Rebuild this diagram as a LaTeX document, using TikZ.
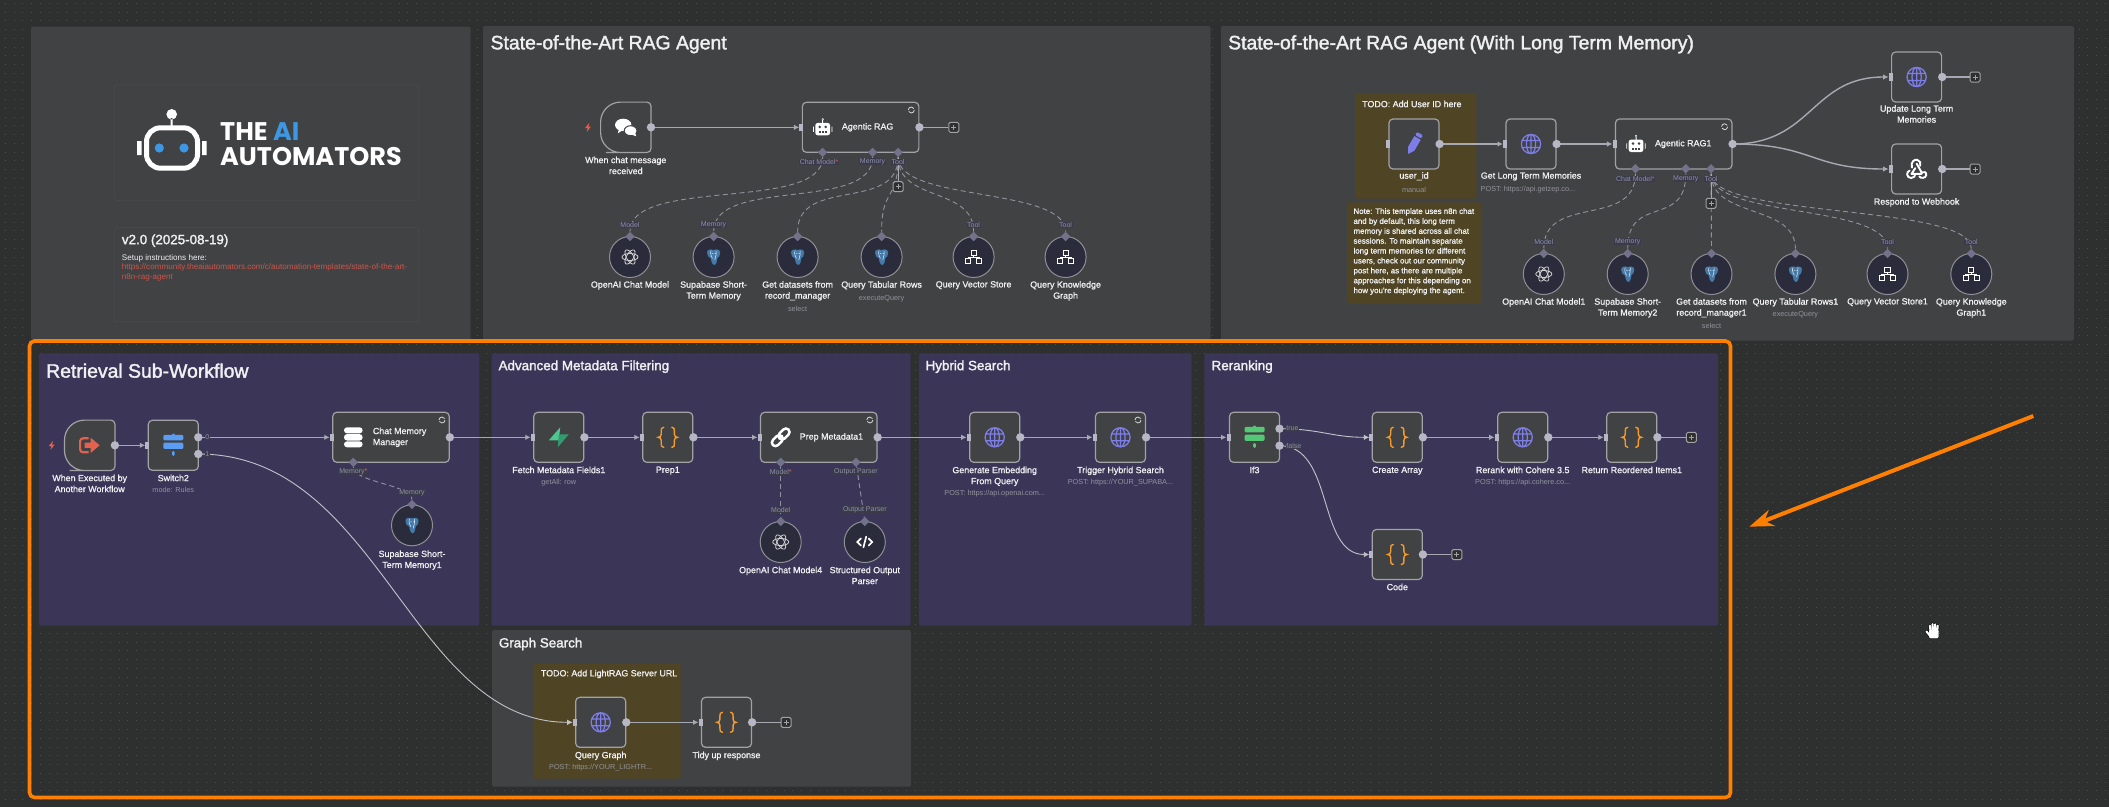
\documentclass[tikz,border=0pt]{standalone}
\usepackage{fontspec}
\setmainfont{Liberation Sans}
\newfontfamily\lblfont[FakeBold=1]{Liberation Sans}
\newfontfamily\ttlfont[FakeBold=1.8]{Liberation Sans}
\newfontfamily\logofont{Poppins}
\usetikzlibrary{arrows.meta,shapes.geometric}
\definecolor{bgcol}{HTML}{2E2F2F}
\definecolor{gridcol}{HTML}{4D4E4E}
\definecolor{panelcol}{HTML}{414244}
\definecolor{purplecol}{HTML}{3B3658}
\definecolor{yellowcol}{HTML}{4F4524}
\definecolor{boxline}{HTML}{A2A2A6}
\definecolor{circfill}{HTML}{2A2B3B}
\definecolor{circline}{HTML}{8F8F96}
\definecolor{flowcol}{HTML}{A8A8B2}
\definecolor{portcol}{HTML}{B6B6C4}
\definecolor{diamcol}{HTML}{72728A}
\definecolor{dashcol}{HTML}{92929C}
\definecolor{mutedcol}{HTML}{92929A}
\definecolor{plbltext}{HTML}{8E90A8}
\definecolor{plblfill}{HTML}{3A3A4A}
\definecolor{textcol}{HTML}{F0F0F2}
\definecolor{orangecol}{HTML}{FF8000}
\definecolor{redcol}{HTML}{E4604F}
\definecolor{linkcol}{HTML}{C9564C}
\definecolor{globecol}{HTML}{7D7DE8}
\definecolor{bracecol}{HTML}{F59B2E}
\definecolor{pgcol}{HTML}{4479A8}
\definecolor{logoblue}{HTML}{3C97E4}
\definecolor{mintcol}{HTML}{4FC690}
\definecolor{mintdark}{HTML}{349A70}
\definecolor{signblue}{HTML}{5B9DF2}
\definecolor{signgreen}{HTML}{55C878}
\tikzset{
  box/.style={draw=boxline, fill=panelcol, line width=1.2pt, rounded corners=4pt, minimum width=50pt, minimum height=50pt, inner sep=0pt},
  widebox/.style={box, minimum width=116.5pt},
  hollow/.style={minimum width=50pt, minimum height=50pt, inner sep=0pt},
  subcirc/.style={circle, draw=circline, fill=circfill, line width=1pt, minimum size=41pt, inner sep=0pt},
  diam/.style={diamond, fill=diamcol, minimum size=9.5pt, inner sep=0pt},
  plusbox/.style={draw=boxline, fill=bgcol, line width=1pt, rounded corners=1.5pt, minimum size=10pt, inner sep=0pt,
    path picture={\draw[boxline, line width=.7pt] (path picture bounding box.center) ++(-2.5,0) -- ++(5,0) ++(-2.5,-2.5) -- ++(0,5);}},
  lbl/.style={anchor=north, align=center, inner sep=0pt, text=textcol, font=\lblfont\fontsize{8.9}{11}\selectfont},
  lblw/.style={lbl, anchor=west, align=left},
  sublbl/.style={inner sep=0pt, text=mutedcol, font=\fontsize{7.3}{9}\selectfont},
  plbl/.style={inner sep=.6pt, fill=plblfill, text=plbltext, font=\fontsize{7}{8}\selectfont},
  head/.style={anchor=west, inner sep=0pt, text=textcol, font=\ttlfont\fontsize{13.4}{15}\selectfont},
  bighead/.style={head, font=\ttlfont\fontsize{19.4}{21}\selectfont},
  flow/.style={draw=flowcol, line width=1.4pt, ->, shorten >=2.4pt},
  thinflow/.style={draw=flowcol!70!white, line width=.9pt, ->, shorten >=2.4pt},
  stub/.style={draw=flowcol, line width=1.3pt},
  dashln/.style={draw=dashcol, line width=.9pt, dash pattern=on 5pt off 3.4pt},
  port/.style={fill=portcol},
  globeicon/.pic={\draw[globecol, line width=1.25pt] (0,0) circle (9.6) (0,0) ellipse (4.6 and 9.6) (-9,-3.4) -- (9,-3.4) (-9,3.4) -- (9,3.4) (0,-9.6) -- (0,9.6);},
  braceicon/.pic={\foreach \s in {1,-1}{\draw[bracecol, line width=1.4pt, line cap=round, xscale=\s] (-4,-10) .. controls (-6.4,-10) and (-6.6,-8.5) .. (-6.6,-6) -- (-6.6,-3) .. controls (-6.6,-1) and (-8,0) .. (-9.6,0) .. controls (-8,0) and (-6.6,1) .. (-6.6,3) -- (-6.6,6) .. controls (-6.6,8.5) and (-6.4,10) .. (-4,10);}},
  pgicon/.pic={\fill[pgcol] (-6.6,-4.4) .. controls (-6.6,-8) and (-2,-8.2) .. (0,-6.8) .. controls (2,-8.2) and (6.6,-8) .. (6.6,-4.4) .. controls (6.6,-1.4) and (5,.6) .. (3.8,1) .. controls (3.6,3.6) and (2.8,7.4) .. (.8,8) .. controls (-1.8,7.6) and (-2.6,3.6) .. (-2.8,1.4) .. controls (-5,.6) and (-6.6,-1.4) .. (-6.6,-4.4) -- cycle;
    \draw[white!85!pgcol, line width=.55pt] (-2.6,-6.4) .. controls (-3.6,-3) and (-2.2,-.6) .. (-1.2,1.4) (2.6,-6.4) .. controls (3.4,-3) and (1.8,-1) .. (1.2,3) (-1.6,-3.4) -- (-.2,-3.4) (1,-3.4) -- (2.2,-3.4);},
  oaicon/.pic={\foreach \a in {0,60,120}{\draw[white!82!black, line width=.8pt, rotate=\a] (0,0) ellipse (8 and 3.5);}},
  neticon/.pic={\draw[white, line width=1pt] (-2.6,-6.2) rectangle (2.6,-2) (0,-2) -- (0,0) (-5.6,1.6) -- (-5.6,0) -- (5.6,0) -- (5.6,1.6) (-8,1.8) rectangle (-3,6) (3,1.8) rectangle (8,6);},
  codeicon/.pic={\draw[white, line width=1.7pt, line cap=round] (-3.8,-3.6) -- (-7.4,0) -- (-3.8,3.6) (3.8,-3.6) -- (7.4,0) -- (3.8,3.6) (1.4,-5.4) -- (-1.4,5.4);},
  chaticon/.pic={\fill[white] (-2.6,-2.4) ellipse (8.2 and 6.2) (-8,6) -- (-6.6,1) -- (-2,2) -- cycle;
    \fill[white, draw=panelcol, line width=1pt] (4.8,3.4) ellipse (6.4 and 5);
    \fill[white] (10.4,9) -- (9,4) -- (5,7) -- cycle;},
  roboticon/.pic={\fill[white, rounded corners=2.5pt] (-7.4,-4.4) rectangle (7.4,8);
    \fill[white] (-9.7,-.6) rectangle (-8.8,4.6) (8.8,-.6) rectangle (9.7,4.6) (-.5,-8) rectangle (.5,-4) (0,-8) circle (1.1);
    \fill[panelcol] (-3,-.4) circle (1.4) (3,-.4) circle (1.4);
    \foreach \u in {-3,0,3}{\fill[panelcol] (\u-.9,3.8) rectangle (\u+.9,5.6);}},
  pencilicon/.pic={\fill[globecol, rotate=-30] (-3.7,-7) -- (3.7,-7) -- (3.7,5.5) -- (0,11.5) -- (-3.7,5.5) -- cycle (-3.7,-12) [rounded corners=1.5pt] -- (3.7,-12) -- (3.7,-8.3) -- (-3.7,-8.3) -- cycle;},
  hookicon/.pic={\draw[white, line width=1.9pt, line cap=round] (-4.6,-1.4) .. controls (-6.4,-7) and (-2,-10) .. (.6,-9.2) .. controls (3.4,-8.6) and (4.6,-5.6) .. (3.6,-3.4) (0,-5.4) -- (5,3.4) .. controls (7,1.8) and (10.2,3.4) .. (9.6,6.2) .. controls (9,9.4) and (4,9.6) .. (2.6,7.4) (5,4.8) -- (-5.2,4.8) (-1.4,-.8) -- (-5.2,5) (-7,1.6) .. controls (-10.6,2.6) and (-10.4,9) .. (-5.4,9) .. controls (-2.4,9) and (-1.6,7) .. (-1.4,5);},
  dbicon/.pic={\fill[white, rounded corners=3pt] (-9.3,-10) rectangle (9.3,-4) (-9.3,-3.2) rectangle (9.3,3.2) (-9.3,4) rectangle (9.3,10);},
  linkicon/.pic={\draw[white, line width=2.5pt, rounded corners=3.6pt, rotate=45] (-11,-3.6) rectangle (1.6,3.6) (-1.6,-3.6) rectangle (11,3.6);},
  boltgreen/.pic={\fill[mintcol] (1.4,-10) -- (-10,3) -- (0,3) -- cycle; \fill[mintdark] (-1,10) -- (10,-3) -- (0,-3) -- cycle;},
  signicon/.pic={\fill[pic actions, rounded corners=1.2pt] (-10,-10.5) rectangle (10,-5) (-10,-2.6) rectangle (10,3.6) (-1.3,5.6) rectangle (1.3,10.6) (-1.3,-11.6) rectangle (1.3,-10.5);},
  exiticon/.pic={\draw[redcol, line width=2.2pt, rounded corners=3pt] (-1,-7) -- (-9.6,-7) -- (-9.6,7) -- (-1,7); \fill[redcol] (-5,-2.6) -- (1,-2.6) -- (1,-7.6) -- (10,0) -- (1,7.6) -- (1,2.6) -- (-5,2.6) -- cycle;},
  tinybolt/.pic={\fill[redcol] (1.4,-4.6) -- (-3,.8) -- (-.4,.8) -- (-1.2,4.6) -- (3,-.8) -- (.4,-.8) -- cycle;},
  refresh/.pic={\draw[white!85!black, line width=.8pt] (3,0) arc (0:150:3) (-3,0) arc (180:330:3);},
  handicon/.pic={\foreach \c/\w in {black/3.4,white/2.1}{\draw[\c, line width=\w pt, line cap=round] (-3.4,-5) -- (-2.6,2) (-.8,-6.6) -- (-.3,1) (1.8,-6.4) -- (1.8,1) (4.4,-5) -- (3.8,2) (-7,.6) -- (-3.4,5) ;
    \fill[\c, rounded corners=2pt] (-3.8-\w*.25,-.6-\w*.25) rectangle (4.8+\w*.25,7.2+\w*.25);}}
}
\begin{document}
\begin{tikzpicture}[>={Latex[length=5.5pt,width=5.5pt]}, x=1pt, y=-1pt]
\useasboundingbox (0,0) rectangle (2109,807);
\fill[bgcol] (0,0) rectangle (2109,807);
\foreach \i in {0,...,92}
  \draw[gridcol, line width=1pt, dash pattern=on 1pt off 7.75pt] (4.75,{3.3+8.75*\i}) -- (2109,{3.3+8.75*\i});

\fill[panelcol, rounded corners=2pt] (31,26.7) rectangle (470.7,340);
\fill[panelcol, rounded corners=2pt] (483,26) rectangle (1210.5,340);
\fill[panelcol, rounded corners=2pt] (1221,26) rectangle (2074,340.7);
\fill[purplecol, rounded corners=2pt] (39,353.3) rectangle (479.3,625.7);
\fill[purplecol, rounded corners=2pt] (491.5,353.3) rectangle (910.7,625.7);
\fill[purplecol, rounded corners=2pt] (919,353.3) rectangle (1191.7,625.7);
\fill[purplecol, rounded corners=2pt] (1204.3,353.3) rectangle (1717.9,625.7);
\fill[panelcol, rounded corners=2pt] (492,630) rectangle (911,786.7);
\fill[yellowcol, rounded corners=2pt] (533.3,663.3) rectangle (680.7,778.7);
\fill[yellowcol, rounded corners=2pt] (1355.2,93.3) rectangle (1476.4,198.7);
\fill[yellowcol, rounded corners=2pt] (1347,202.3) rectangle (1480.8,303.7);
\draw[gridcol!70!panelcol, line width=.6pt, rounded corners=2pt] (114.3,85) rectangle (418.7,200.3);
\draw[gridcol!70!panelcol, line width=.6pt, rounded corners=2pt] (114.3,227.7) rectangle (418.7,321.7);

\draw[white, line width=5pt, rounded corners=14pt] (146.5,127.8) rectangle (197.5,168.2);
\fill[white] (170.7,118) rectangle (172.7,126) (171.7,114.3) circle (5.3) (137,141) rectangle (141.7,155) (202,141) rectangle (206.7,155);
\fill[logoblue] (159.3,148) circle (4.6) (184,148) circle (4.6);
\node[anchor=base west, inner sep=0pt, text=white, font=\logofont\bfseries\fontsize{25.5}{28}\selectfont] (logoa) at (220,140.7) {THE \textcolor{logoblue}{AI}};
\node[anchor=base west, inner sep=0pt, text=white, font=\logofont\bfseries\fontsize{25.5}{28}\selectfont] (logob) at (220,165) {AUTOMATORS};
\node[anchor=west, inner sep=0pt, text=textcol, font=\ttlfont\fontsize{13.4}{16}\selectfont] (vers) at (121.7,240.7) {v2.0 (2025-08-19)};
\node[lbl, anchor=north west, align=left, font=\fontsize{8.1}{10}\selectfont] (setup) at (121.7,254) {Setup instructions here:\\[-.1pt]\textcolor{linkcol}{https://community.theaiautomators.com/c/automation-templates/state-of-the-art-}\\[-.1pt]\textcolor{linkcol}{n8n-rag-agent}};

\node[bighead] (titlea) at (490.4,44.3) {State-of-the-Art RAG Agent};
\node[bighead] (titleb) at (1228,44.3) {State-of-the-Art RAG Agent (With Long Term Memory)};
\node[bighead] (titlec) at (46,370.7) {Retrieval Sub-Workflow};
\node[head] (titled) at (498.4,366.7) {Advanced Metadata Filtering};
\node[head] (titlee) at (925.4,366.7) {Hybrid Search};
\node[head] (titlef) at (1211.4,366.7) {Reranking};
\node[head] (titleg) at (498.7,644) {Graph Search};

\node[hollow] (chat) at (625.8,127.3) {};
\node[widebox] (agent) at (860.6,127.3) {};
\node[plusbox] (pla) at (953.8,127.3) {};

\node[box] (userid) at (1414,144) {};
\node[box] (ltm) at (1531,144) {};
\node[widebox] (agentb) at (1673.7,144) {};
\node[box] (update) at (1916.6,77) {};
\node[box] (hook) at (1916.6,169) {};
\node[plusbox] (plb) at (1975,77) {};
\node[plusbox] (plc) at (1975,169) {};

\node[hollow] (exec) at (89.7,445.3) {};
\node[box] (swt) at (173.3,445.3) {};
\coordinate (swta) at (198.3,437.3);
\coordinate (swtb) at (198.3,454);
\node[widebox] (mem) at (391,437.3) {};
\node[box] (fetch) at (558.8,437.3) {};
\node[box] (prep) at (667.8,437.3) {};
\node[widebox] (meta) at (818.8,437.3) {};
\node[box] (embed) at (994.7,437.3) {};
\node[box] (hybrid) at (1120.5,437.3) {};
\node[box] (iff) at (1254.5,437.3) {};
\coordinate (iffa) at (1279.5,428.7);
\coordinate (iffb) at (1279.5,445.7);
\node[box] (array) at (1397.3,437.3) {};
\node[box] (cohere) at (1522.7,437.3) {};
\node[box] (reord) at (1631.8,437.3) {};
\node[plusbox] (pld) at (1691.4,437.3) {};
\node[box] (code) at (1397.3,554.5) {};
\node[plusbox] (ple) at (1456.8,554.5) {};
\node[box] (qgraph) at (600.7,722.3) {};
\node[box] (tidy) at (726.5,722.3) {};
\node[plusbox] (plf) at (786,722.3) {};

\draw[flow] (chat.east) -- (agent.west);
\draw[stub] (agent.east) -- (pla.west);
\draw[flow] (userid.east) -- (ltm.west);
\draw[flow] (ltm.east) -- (agentb.west);
\draw[flow] (agentb.east) .. controls +(80,0) and +(-80,0) .. (update.west);
\draw[flow] (agentb.east) .. controls +(80,0) and +(-80,0) .. (hook.west);
\draw[stub] (update.east) -- (plb.west);
\draw[stub] (hook.east) -- (plc.west);
\draw[flow] (exec.east) -- (swt.west);
\draw[flow] (swta) -- (mem.west);
\draw[thinflow] (swtb) .. controls (380,454) and (410,722.3) .. (qgraph.west);
\draw[flow] (mem.east) -- (fetch.west);
\draw[flow] (fetch.east) -- (prep.west);
\draw[flow] (prep.east) -- (meta.west);
\draw[flow] (meta.east) -- (embed.west);
\draw[flow] (embed.east) -- (hybrid.west);
\draw[flow] (hybrid.east) -- (iff.west);
\draw[thinflow] (iffa) .. controls +(40,0) and +(-40,0) .. (array.west);
\draw[thinflow] (iffb) .. controls +(55,0) and +(-55,0) .. (code.west);
\draw[flow] (array.east) -- (cohere.west);
\draw[flow] (cohere.east) -- (reord.west);
\draw[stub] (reord.east) -- (pld.west);
\draw[stub] (code.east) -- (ple.west);
\draw[flow] (qgraph.east) -- (tidy.west);
\draw[stub] (tidy.east) -- (plf.west);

\draw[draw=boxline, fill=panelcol, line width=1.2pt] (chat.east) [rounded corners=4pt] -- (chat.north east) -- (chat.north) [rounded corners=20pt] -- (chat.north west) -- (chat.south west) -- (chat.south) [rounded corners=4pt] -- (chat.south east) -- cycle;
\draw[draw=boxline, fill=panelcol, line width=1.2pt] (exec.east) [rounded corners=4pt] -- (exec.north east) -- (exec.north) [rounded corners=20pt] -- (exec.north west) -- (exec.south west) -- (exec.south) [rounded corners=4pt] -- (exec.south east) -- cycle;

\foreach \a in {chat,agent,userid,ltm,agentb,update,hook,exec,mem,fetch,prep,meta,embed,hybrid,array,cohere,reord,code,qgraph,tidy}
  \fill[port] (\a.east) circle (4.2);
\fill[port] (swta) circle (4.2) (swtb) circle (4.2) (iffa) circle (4.2) (iffb) circle (4.2);
\foreach \a in {agent,userid,ltm,agentb,update,hook,swt,mem,fetch,prep,meta,embed,hybrid,iff,array,cohere,reord,code,qgraph,tidy}
  \fill[port] (\a.west) ++(-2.3,-3.7) rectangle +(4,7.4);

\node[diam] (aga) at (822.6,152.3) {};
\node[diam] (agb) at (872.6,152.3) {};
\node[diam] (agc) at (898.1,152.3) {};
\foreach \n/\x/\ic/\txt in {oaa/630/oaicon/{OpenAI Chat Model},pga/713.6/pgicon/{Supabase Short-\\Term Memory},pgb/797.6/pgicon/{Get datasets from\\record\_manager},pgc/881.6/pgicon/{Query Tabular Rows},vsa/973.6/neticon/{Query Vector Store},kga/1065.6/neticon/{Query Knowledge\\Graph}}{
  \node[subcirc] (\n) at (\x,257) {};
  \node[diam] (\n d) at (\x,236.5) {};
  \pic at (\n) {\ic};
  \node[lbl] (\n l) at (\x,281) {\txt};
}
\draw[dashln] (aga) .. controls +(0,60) and +(0,-60) .. (oaad);
\draw[dashln] (agb) .. controls +(0,60) and +(0,-60) .. (pgad);
\draw[dashln] (agc) .. controls +(0,60) and +(0,-60) .. (pgbd);
\draw[dashln] (agc) .. controls +(0,50) and +(0,-50) .. (pgcd);
\draw[dashln] (agc) .. controls +(0,50) and +(0,-50) .. (vsad);
\draw[dashln] (agc) .. controls +(0,50) and +(0,-50) .. (kgad);
\node[plusbox] (plg) at (898.1,186.7) {};
\draw[stub, line width=1pt] (agc) -- (plg);

\node[diam] (agd) at (1635.4,168.7) {};
\node[diam] (age) at (1685.8,168.7) {};
\node[diam] (agf) at (1711,168.7) {};
\foreach \n/\x/\ic/\txt in {oab/1543.8/oaicon/{OpenAI Chat Model1},pgd/1627.7/pgicon/{Supabase Short-\\Term Memory2},pge/1711.5/pgicon/{Get datasets from\\record\_manager1},pgf/1795.4/pgicon/{Query Tabular Rows1},vsb/1887.5/neticon/{Query Vector Store1},kgb/1971.3/neticon/{Query Knowledge\\Graph1}}{
  \node[subcirc] (\n) at (\x,274) {};
  \node[diam] (\n d) at (\x,253.5) {};
  \pic at (\n) {\ic};
  \node[lbl] (\n l) at (\x,298) {\txt};
}
\draw[dashln] (agd) .. controls +(0,60) and +(0,-60) .. (oabd);
\draw[dashln] (age) .. controls +(0,60) and +(0,-60) .. (pgdd);
\draw[dashln] (agf) -- (pged);
\draw[dashln] (agf) .. controls +(0,50) and +(0,-50) .. (pgfd);
\draw[dashln] (agf) .. controls +(0,50) and +(0,-50) .. (vsbd);
\draw[dashln] (agf) .. controls +(0,50) and +(0,-50) .. (kgbd);
\node[plusbox] (plh) at (1711,203.3) {};
\draw[stub, line width=1pt] (agf) -- (plh);

\node[diam] (mma) at (353.3,462.3) {};
\node[subcirc] (pgh) at (412,525.3) {};
\node[diam] (pghd) at (412,504.5) {};
\draw[dashln] (mma) .. controls +(0,20) and +(0,-20) .. (pghd);
\pic at (pgh) {pgicon};
\node[diam] (mta) at (780.7,462.3) {};
\node[diam] (mtb) at (856,462.3) {};
\node[subcirc] (oac) at (780.7,542) {};
\node[diam] (oacd) at (780.7,521.5) {};
\node[subcirc] (par) at (864.8,542) {};
\node[diam] (pard) at (864.8,521.5) {};
\draw[dashln] (mta) -- (oacd);
\draw[dashln] (mtb) -- (pard);
\pic at (oac) {oaicon};
\pic at (par) {codeicon};

\pic at (chat) {chaticon};
\pic at (822.7,127.3) {roboticon};
\pic at (1636,144) {roboticon};
\pic at (userid) {pencilicon};
\pic at (ltm) {globeicon};
\pic at (update) {globeicon};
\pic at (hook) {hookicon};
\pic at (exec) {exiticon};
\pic[fill=signblue] at (swt) {signicon};
\pic at (353.3,437.3) {dbicon};
\pic at (fetch) {boltgreen};
\pic at (prep) {braceicon};
\pic at (780.7,437.3) {linkicon};
\pic at (embed) {globeicon};
\pic at (hybrid) {globeicon};
\pic[fill=signgreen] at (iff) {signicon};
\pic at (array) {braceicon};
\pic at (cohere) {globeicon};
\pic at (reord) {braceicon};
\pic at (code) {braceicon};
\pic at (qgraph) {globeicon};
\pic at (tidy) {braceicon};
\pic at (588,127.3) {tinybolt};
\pic at (51.7,445.3) {tinybolt};
\pic at (911.3,110) {refresh};
\pic at (1724.6,126.7) {refresh};
\pic at (869.8,420) {refresh};
\pic at (442,420) {refresh};
\pic at (1138,420) {refresh};

\node[lblw] (agentl) at (841.7,127.3) {Agentic RAG};
\node[lblw] (agentbl) at (1654.8,144) {Agentic RAG1};
\node[lblw] (meml) at (372.7,437.3) {Chat Memory\\Manager};
\node[lblw] (metal) at (799.6,437.3) {Prep Metadata1};

\node[lbl] (chatl) at (625.8,156.5) {When chat message\\received};
\node[lbl] (useridl) at (1414,172) {user\_id};
\node[sublbl] (useridm) at (1414,189.7) {manual};
\node[lbl] (ltml) at (1531,172) {Get Long Term Memories};
\node[sublbl] (ltmm) at (1528,189.7) {POST: https://api.getzep.co...};
\node[lbl] (updatel) at (1916.6,105) {Update Long Term\\Memories};
\node[lbl] (hookl) at (1916.6,198) {Respond to Webhook};
\node[sublbl] (pgbm) at (797.6,308.7) {select};
\node[sublbl] (pgcm) at (881.6,298.7) {executeQuery};
\node[sublbl] (pgem) at (1711.5,325.7) {select};
\node[sublbl] (pgfm) at (1795.4,314.7) {executeQuery};

\node[plbl] (lba) at (819,161.7) {Chat Model\textcolor{redcol}{*}};
\node[plbl] (lbb) at (872.6,161.7) {Memory};
\node[plbl] (lbc) at (898.1,161.7) {Tool};
\node[plbl] (lbd) at (630,224.7) {Model};
\node[plbl] (lbe) at (713.6,224.7) {Memory};
\node[plbl] (lbf) at (973.6,224.7) {Tool};
\node[plbl] (lbg) at (1065.6,224.7) {Tool};
\node[plbl] (lbh) at (1635.4,178.7) {Chat Model\textcolor{redcol}{*}};
\node[plbl] (lbi) at (1685.8,178.7) {Memory};
\node[plbl] (lbj) at (1711,178.7) {Tool};
\node[plbl] (lbk) at (1543.8,241.7) {Model};
\node[plbl] (lbl) at (1627.7,241.7) {Memory};
\node[plbl] (lbm) at (1887.5,241.7) {Tool};
\node[plbl] (lbn) at (1971.3,241.7) {Tool};
\node[plbl] (lbo) at (353.3,471.7) {Memory\textcolor{redcol}{*}};
\node[plbl] (lbp) at (412,492.7) {Memory};
\node[plbl] (lbq) at (780.7,471.7) {Model\textcolor{redcol}{*}};
\node[plbl] (lbr) at (856,471.7) {Output Parser};
\node[plbl] (lbs) at (780.7,509.7) {Model};
\node[plbl] (lbt) at (864.8,509.7) {Output Parser};
\node[plbl, anchor=west] (lbu) at (204.5,437.3) {0};
\node[plbl, anchor=west] (lbv) at (204.5,454) {1};
\node[plbl, anchor=west] (lbw) at (1285.6,428.7) {true};
\node[plbl, anchor=west] (lbx) at (1285.6,445.7) {false};

\node[lbl] (execl) at (89.7,474.5) {When Executed by\\Another Workflow};
\node[lbl] (swtl) at (173.3,474.5) {Switch2};
\node[sublbl] (swtm) at (173.3,490.3) {mode: Rules};
\node[lbl] (pghl) at (412,550.3) {Supabase Short-\\Term Memory1};
\node[lbl] (fetchl) at (558.8,466.5) {Fetch Metadata Fields1};
\node[sublbl] (fetchm) at (558.8,482.7) {getAll: row};
\node[lbl] (prepl) at (667.8,466.5) {Prep1};
\node[lbl] (oacl) at (780.7,566.5) {OpenAI Chat Model4};
\node[lbl] (parl) at (864.8,566.5) {Structured Output\\Parser};
\node[lbl] (embedl) at (994.7,466.5) {Generate Embedding\\From Query};
\node[sublbl] (embedm) at (994.7,493.7) {POST: https://api.openai.com...};
\node[lbl] (hybridl) at (1120.5,466.5) {Trigger Hybrid Search};
\node[sublbl] (hybridm) at (1120.5,482.7) {POST: https://YOUR\_SUPABA...};
\node[lbl] (iffl) at (1254.5,466.5) {If3};
\node[lbl] (arrayl) at (1397.3,466.5) {Create Array};
\node[lbl] (coherel) at (1522.7,466.5) {Rerank with Cohere 3.5};
\node[sublbl] (coherem) at (1522.7,482.7) {POST: https://api.cohere.co...};
\node[lbl] (reordl) at (1631.8,466.5) {Return Reordered Items1};
\node[lbl] (codel) at (1397.3,583.5) {Code};
\node[lbl] (qgraphl) at (600.7,751.5) {Query Graph};
\node[sublbl] (qgraphm) at (600.7,767.3) {POST: https://YOUR\_LIGHTR...};
\node[lbl] (tidyl) at (726.5,751.5) {Tidy up response};

\node[lblw] (todoa) at (1362,104) {TODO: Add User ID here};
\node[lblw] (todob) at (540.7,674) {TODO: Add LightRAG Server URL};
\node[lbl, anchor=north west, align=left, font=\lblfont\fontsize{7.9}{9.9}\selectfont] (note) at (1353.3,208) {Note: This template uses n8n chat\\and by default, this long term\\memory is shared across all chat\\sessions. To maintain separate\\long term memories for different\\users, check out our community\\post here, as there are multiple\\approaches for this depending on\\how you're deploying the agent.};

\draw[orangecol, line width=3.6pt, rounded corners=5pt] (29.5,341) rectangle (1730.5,797.5);
\coordinate (arrowa) at (2033.3,416);
\coordinate (arrowb) at (1749.3,526.7);
\draw[orangecol, line width=4pt, -{Stealth[length=24pt,width=17pt]}] (arrowa) -- (arrowb);
\pic at (1933.3,630.7) {handicon};
\end{tikzpicture}
\end{document}
